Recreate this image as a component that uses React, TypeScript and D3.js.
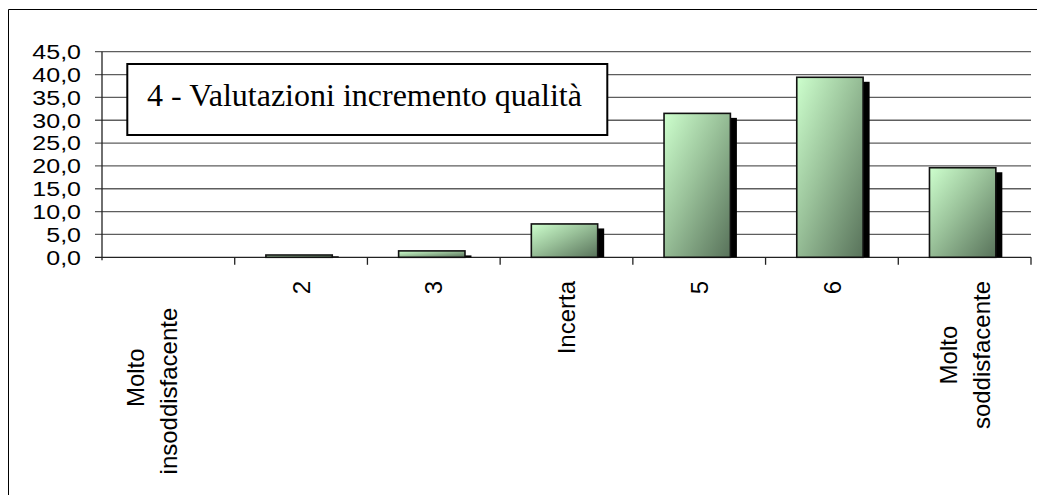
import React, { useMemo } from "react";
import * as d3 from "d3";

// data
const categories: string[][] = [
  ["Molto", "insoddisfacente    ", ""],
  ["2"],
  ["3"],
  ["Incerta"],
  ["5"],
  ["6"],
  ["Molto", "soddisfacente"],
];
const values = [0, 0.5, 1.4, 7.3, 31.5, 39.4, 19.6];
const yTicks = [0, 5, 10, 15, 20, 25, 30, 35, 40, 45];
const title = "4 - Valutazioni incremento qualità";

const W = 1037;
const H = 495;
const sans = "'Liberation Sans', Arial, sans-serif";
const serif = "'Liberation Serif', 'Times New Roman', serif";

const fmt = d3
  .formatLocale({ decimal: ",", thousands: ".", grouping: [3], currency: ["", "€"] })
  .format(".1f");

export default function App() {
  const x = d3
    .scaleBand<number>()
    .domain(values.map((_, i) => i))
    .range([102, 1031])
    .padding(0);
  const y = d3.scaleLinear().domain([0, 45]).range([257.3, 51.7]);
  const bw = x.bandwidth();

  // measure label lines so rotated multi-line labels are centred like Excel
  const widths = useMemo(() => {
    const ctx = document.createElement("canvas").getContext("2d");
    if (!ctx) return categories.map(() => 0);
    ctx.font = `24px ${sans}`;
    return categories.map((lines) =>
      Math.max(...lines.map((l) => ctx.measureText(l).width))
    );
  }, []);

  const lineGap = 33;
  const labelTop = 281;

  return (
    <svg
      width={W}
      height={H}
      style={{ position: "absolute", left: 0, top: 0, display: "block", background: "#fff" }}
    >
      <defs>
        <linearGradient id="barFill" x1="0" y1="0" x2="1" y2="1">
          <stop offset="0" stopColor="#cdffcd" />
          <stop offset="0.45" stopColor="#9ac29a" />
          <stop offset="1" stopColor="#58725a" />
        </linearGradient>
      </defs>

      {/* outer frame */}
      <line x1={8.5} x2={W} y1={9.5} y2={9.5} stroke="#000" strokeWidth={1} />
      <line x1={8.5} x2={8.5} y1={9.5} y2={H} stroke="#000" strokeWidth={1} />

      {/* gridlines */}
      {yTicks.map((t) => (
        <line
          key={"g" + t}
          x1={95}
          x2={1031}
          y1={y(t)}
          y2={y(t)}
          stroke={t === 0 ? "#222" : "#5e5e5e"}
          strokeWidth={1.3}
        />
      ))}

      {/* y axis */}
      <line x1={102} x2={102} y1={y(45)} y2={y(0) + 3} stroke="#222" strokeWidth={1.3} />
      {yTicks.map((t) => (
        <text
          key={"yl" + t}
          transform={`translate(81,${y(t)}) scale(1,0.82)`}
          textAnchor="end"
          dy="0.36em"
          fontFamily={sans}
          fontSize={25}
          fill="#000"
        >
          {fmt(t)}
        </text>
      ))}

      {/* category ticks */}
      {values.map((_, i) => (
        <line
          key={"xt" + i}
          x1={(x(i) as number) + bw}
          x2={(x(i) as number) + bw}
          y1={y(0)}
          y2={y(0) + 7.5}
          stroke="#222"
          strokeWidth={1.3}
        />
      ))}

      {/* title box */}
      <rect x={127.3} y={64} width={480} height={71} fill="#fff" stroke="#000" strokeWidth={2} />
      <text x={364.5} y={105.5} textAnchor="middle" fontFamily={serif} fontSize={32} fill="#000">
        {title}
      </text>

      {/* bars with shadow */}
      {values.map((v, i) => {
        if (v <= 0) return null;
        const bx = (x(i) as number) + bw * 0.235;
        const w = bw * 0.5;
        const top = y(v);
        const h = y(0) - top;
        return (
          <g key={"b" + i}>
            <rect
              x={bx + 6.5}
              y={Math.min(top + 4.5, y(0) - 1)}
              width={w}
              height={Math.max(y(0) - top - 4.5, 1)}
              fill="#000"
            />
            <rect
              x={bx}
              y={top}
              width={w}
              height={h}
              fill="url(#barFill)"
              stroke="#111"
              strokeWidth={1.6}
            />
          </g>
        );
      })}

      {/* rotated category labels */}
      {categories.map((lines, i) => {
        const cx = (x(i) as number) + bw / 2;
        const cy = labelTop + widths[i] / 2;
        const n = lines.length;
        return lines.map((l, j) => (
          <text
            key={"c" + i + "-" + j}
            transform={`translate(${cx + (j - (n - 1) / 2) * lineGap},${cy}) rotate(-90)`}
            textAnchor="middle"
            dy="0.36em"
            fontFamily={sans}
            fontSize={24}
            fill="#000"
            style={{ whiteSpace: "pre" }}
          >
            {l}
          </text>
        ));
      })}
    </svg>
  );
}
